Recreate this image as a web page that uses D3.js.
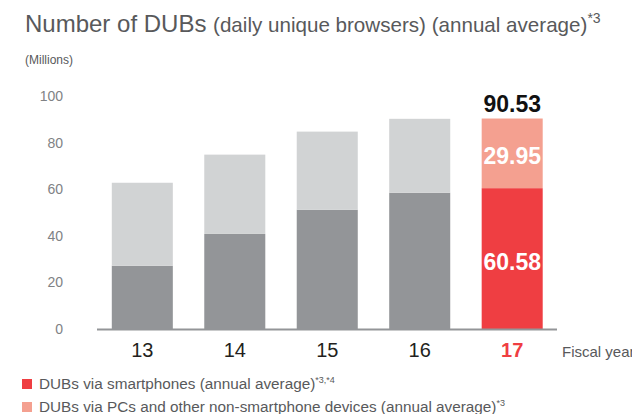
<!DOCTYPE html>
<html>
<head>
<meta charset="utf-8">
<script src="https://cdn.jsdelivr.net/npm/d3@7"></script>
<style>
  html, body { margin: 0; padding: 0; background: #fff; overflow: hidden; }
  svg { display: block; font-family: "Liberation Sans", Arial, Helvetica, sans-serif; }
</style>
</head>
<body>
<svg id="chart" width="632" height="414"></svg>
<script>
// Fiscal years and DUB values (millions, annual average)
const years = ["13", "14", "15", "16", "17"];
const smartphone = [27.2, 40.9, 51.3, 58.6, 60.58];
const pcOther = [35.7, 34.1, 33.6, 31.8, 29.95];
const yTicks = [0, 20, 40, 60, 80, 100];
const highlightYear = "17";

const legendLabels = [
  { text: "DUBs via smartphones (annual average)", sup: "*3,*4" },
  { text: "DUBs via PCs and other non-smartphone devices (annual average)", sup: "*3" }
];

const colors = {
  smartGray: "#939598",
  pcGray: "#d1d3d4",
  smartRed: "#ef3e42",
  pcRed: "#f4a090",
  axis: "#939598",
  tick: "#808285",
  text: "#58595b",
  cat: "#231f20"
};

const svg = d3.select("#chart");

const x = d3.scaleBand()
  .domain(years)
  .range([97, 557.5])
  .paddingInner(0.34)
  .paddingOuter(0.16);

const y = d3.scaleLinear().domain([0, 100]).range([329, 96.5]);

// Title
const title = svg.append("text")
  .attr("x", 25).attr("y", 32)
  .attr("fill", colors.text);
title.append("tspan").attr("font-size", 24).text("Number of DUBs ");
title.append("tspan").attr("font-size", 20.6).text("(daily unique browsers) (annual average)");
title.append("tspan").attr("font-size", 14).attr("dy", -9).text("*3");

svg.append("text")
  .attr("x", 25).attr("y", 64)
  .attr("font-size", 12)
  .attr("fill", colors.text)
  .text("(Millions)");

// Y tick labels (no axis line)
const yAxis = d3.axisLeft(y).tickValues(yTicks).tickSize(0).tickPadding(0);
const gy = svg.append("g").attr("transform", "translate(63,0)").call(yAxis);
gy.select(".domain").remove();
gy.selectAll("text")
  .attr("font-size", 14)
  .attr("fill", colors.tick)
  .attr("font-family", "'Liberation Sans', Arial, sans-serif");

// Stacked bars
const stackData = years.map((yr, i) => ({ year: yr, smart: smartphone[i], pc: pcOther[i] }));
const series = d3.stack().keys(["smart", "pc"])(stackData);

const fillFor = (key, yr) => {
  const hi = yr === highlightYear;
  if (key === "smart") return hi ? colors.smartRed : colors.smartGray;
  return hi ? colors.pcRed : colors.pcGray;
};

svg.append("g").selectAll("g")
  .data(series)
  .join("g")
  .each(function (s) {
    d3.select(this).selectAll("rect")
      .data(s)
      .join("rect")
      .attr("x", d => x(d.data.year))
      .attr("width", x.bandwidth())
      .attr("y", d => y(d[1]))
      .attr("height", d => y(d[0]) - y(d[1]))
      .attr("fill", d => fillFor(s.key, d.data.year));
  });

// Baseline
svg.append("line")
  .attr("x1", 97).attr("x2", 557)
  .attr("y1", y(0) + 0.5).attr("y2", y(0) + 0.5)
  .attr("stroke", colors.axis)
  .attr("stroke-width", 2);

// Value labels on the highlighted year
const hiIdx = years.indexOf(highlightYear);
const hiX = x(highlightYear) + x.bandwidth() / 2;
const total = smartphone[hiIdx] + pcOther[hiIdx];

svg.append("text")
  .attr("x", hiX).attr("y", y(total) - 7)
  .attr("text-anchor", "middle")
  .attr("font-size", 23).attr("font-weight", "bold")
  .attr("fill", "#111")
  .text(total.toFixed(2));

series.forEach(s => {
  const d = s[hiIdx];
  const mid = (y(d[0]) + y(d[1])) / 2;
  svg.append("text")
    .attr("x", hiX).attr("y", mid + 11)
    .attr("text-anchor", "middle")
    .attr("font-size", 23).attr("font-weight", "bold")
    .attr("fill", "#fff")
    .text((d[1] - d[0]).toFixed(2));
});

// Category labels
const xAxis = d3.axisBottom(x).tickSize(0).tickPadding(0);
const gx = svg.append("g").attr("transform", "translate(0,342)").call(xAxis);
gx.select(".domain").remove();
gx.selectAll("text")
  .attr("dy", null)
  .attr("y", 15)
  .attr("font-size", 20)
  .attr("font-family", "'Liberation Sans', Arial, sans-serif")
  .attr("fill", d => d === highlightYear ? colors.smartRed : colors.cat)
  .attr("font-weight", d => d === highlightYear ? "bold" : "normal");

svg.append("text")
  .attr("x", 562).attr("y", 357)
  .attr("font-size", 15)
  .attr("fill", colors.text)
  .text("Fiscal year");

// Legend
const legendColors = [colors.smartRed, colors.pcRed];
const lg = svg.append("g").selectAll("g")
  .data(legendLabels)
  .join("g")
  .attr("transform", (d, i) => `translate(22,${379 + i * 23})`);
lg.append("rect")
  .attr("width", 10).attr("height", 10)
  .attr("fill", (d, i) => legendColors[i]);
const lt = lg.append("text")
  .attr("x", 17).attr("y", 10)
  .attr("font-size", 15.3)
  .attr("fill", colors.text);
lt.append("tspan").text(d => d.text);
lt.append("tspan").attr("font-size", 9).attr("dy", -6).text(d => d.sup);
</script>
</body>
</html>
